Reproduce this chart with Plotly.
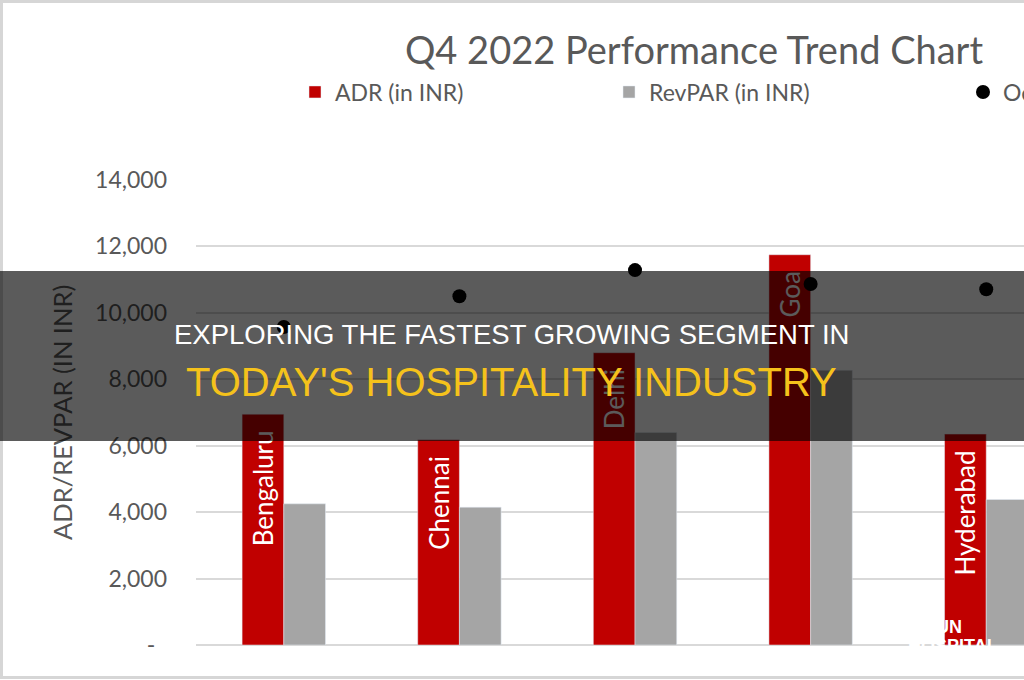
import plotly.graph_objects as go

# ---- data ----
cities = ["Bengaluru", "Chennai", "Delhi", "Goa", "Hyderabad"]
adr = [6950, 6180, 8800, 11750, 6350]
revpar = [4250, 4150, 6400, 8270, 4380]
occupancy = [0.547, 0.600, 0.645, 0.621, 0.612]
y_ticks = [0, 2000, 4000, 6000, 8000, 10000, 12000, 14000]
y_ticktext = ["-\u00a0\u00a0", "2,000", "4,000", "6,000", "8,000", "10,000", "12,000", "14,000"]

# ---- layout geometry (pixels) ----
W, H = 1024, 680
PL, PT, PW, PH = 196, 180, 828, 465


def px(x):
    return (x - PL) / PW


def py(y):
    return (PT + PH - y) / PH


FONT = "Lato"
GREY_TXT = "#595959"

fig = go.Figure()
fig.add_trace(go.Bar(
    x=cities, y=adr, name="ADR (in INR)", marker_color="#c00000",
    text=[c + "\u00a0\u00a0" for c in cities], textposition="inside",
    insidetextanchor="end", textangle=-90,
    insidetextfont=dict(family=FONT, size=26, color="white"),
    legend="legend",
))
fig.add_trace(go.Bar(
    x=cities, y=revpar, name="RevPAR (in INR)", marker_color="#a5a5a5",
    legend="legend2",
))
fig.add_trace(go.Scatter(
    x=cities, y=occupancy, name="Occupancy (%)", mode="markers",
    marker=dict(size=14, color="black"), yaxis="y2", legend="legend3",
))

legend_common = dict(orientation="h", yanchor="middle", xanchor="left",
                     font=dict(family=FONT, size=23, color=GREY_TXT),
                     bgcolor="rgba(0,0,0,0)", itemwidth=30)

fig.update_layout(
    width=W, height=H,
    margin=dict(l=PL, r=W - PL - PW, t=PT, b=H - PT - PH, autoexpand=False),
    paper_bgcolor="white", plot_bgcolor="white",
    barmode="group", bargap=0.525, bargroupgap=0,
    font=dict(family=FONT, color=GREY_TXT),
    title=dict(text="Q4 2022 Performance Trend Chart", x=694 / W, xanchor="center",
               xref="container",
               y=1 - 51 / H, yanchor="middle", yref="container",
               font=dict(family=FONT, size=38, color=GREY_TXT)),
    xaxis=dict(type="category", range=[-0.5, 4.215], showticklabels=False,
               showgrid=False, zeroline=False, showline=False, ticks=""),
    yaxis=dict(range=[0, 14000], tickvals=y_ticks, ticktext=y_ticktext,
               showgrid=True, gridcolor="#d9d9d9", gridwidth=2,
               zeroline=True, zerolinecolor="#d9d9d9", zerolinewidth=2,
               showline=False, ticks="", ticklabelstandoff=28,
               tickfont=dict(family=FONT, size=23, color=GREY_TXT)),
    yaxis2=dict(range=[0, 0.8], overlaying="y", side="right", showgrid=False,
                showticklabels=False, zeroline=False, showline=False, ticks=""),
    showlegend=True,
    legend=dict(x=px(295), y=py(92), **legend_common),
    legend2=dict(x=px(609), y=py(92), **legend_common),
    legend3=dict(x=px(963), y=py(92), **legend_common),
)

# outer chart border
fig.add_shape(type="rect", xref="paper", yref="paper",
              x0=px(1.5), x1=px(1040), y0=py(677.5), y1=py(1.5),
              line=dict(color="#d6d6d6", width=3), layer="below")

annotations = [
    # axis title (drawn before the banner so it is dimmed by it)
    dict(text="ADR/REVPAR (IN INR)", textangle=-90, x=px(62), y=py(413),
         xref="paper", yref="paper", showarrow=False, xanchor="center", yanchor="middle",
         font=dict(family=FONT, size=25.5, color=GREY_TXT)),
    # watermark
    dict(text="<b>UN</b>", x=px(964), y=py(627), xref="paper", yref="paper",
         showarrow=False, xanchor="right", yanchor="middle",
         font=dict(family="Liberation Sans", size=18, color="white")),
    dict(text="<b>HOSPITAL</b>", x=px(1000), y=py(646), xref="paper", yref="paper",
         showarrow=False, xanchor="right", yanchor="middle",
         font=dict(family="Liberation Sans", size=18, color="white")),
    # dark banner
    dict(text=" ", x=px(0), y=py(271), xref="paper", yref="paper", showarrow=False,
         xanchor="left", yanchor="top", width=W, height=170, borderpad=0,
         borderwidth=0, bgcolor="rgba(0,0,0,0.645)"),
    dict(text="EXPLORING THE FASTEST GROWING SEGMENT IN", x=px(511), y=py(334),
         xref="paper", yref="paper", showarrow=False, xanchor="center", yanchor="middle",
         font=dict(family="Liberation Sans, Arial", size=27.5, color="white")),
    dict(text="TODAY'S HOSPITALITY INDUSTRY", x=px(511), y=py(382),
         xref="paper", yref="paper", showarrow=False, xanchor="center", yanchor="middle",
         font=dict(family="Liberation Sans, Arial", size=40, color="#f5c21b")),
]
fig.update_layout(annotations=annotations)

fig.write_html("out.html")
